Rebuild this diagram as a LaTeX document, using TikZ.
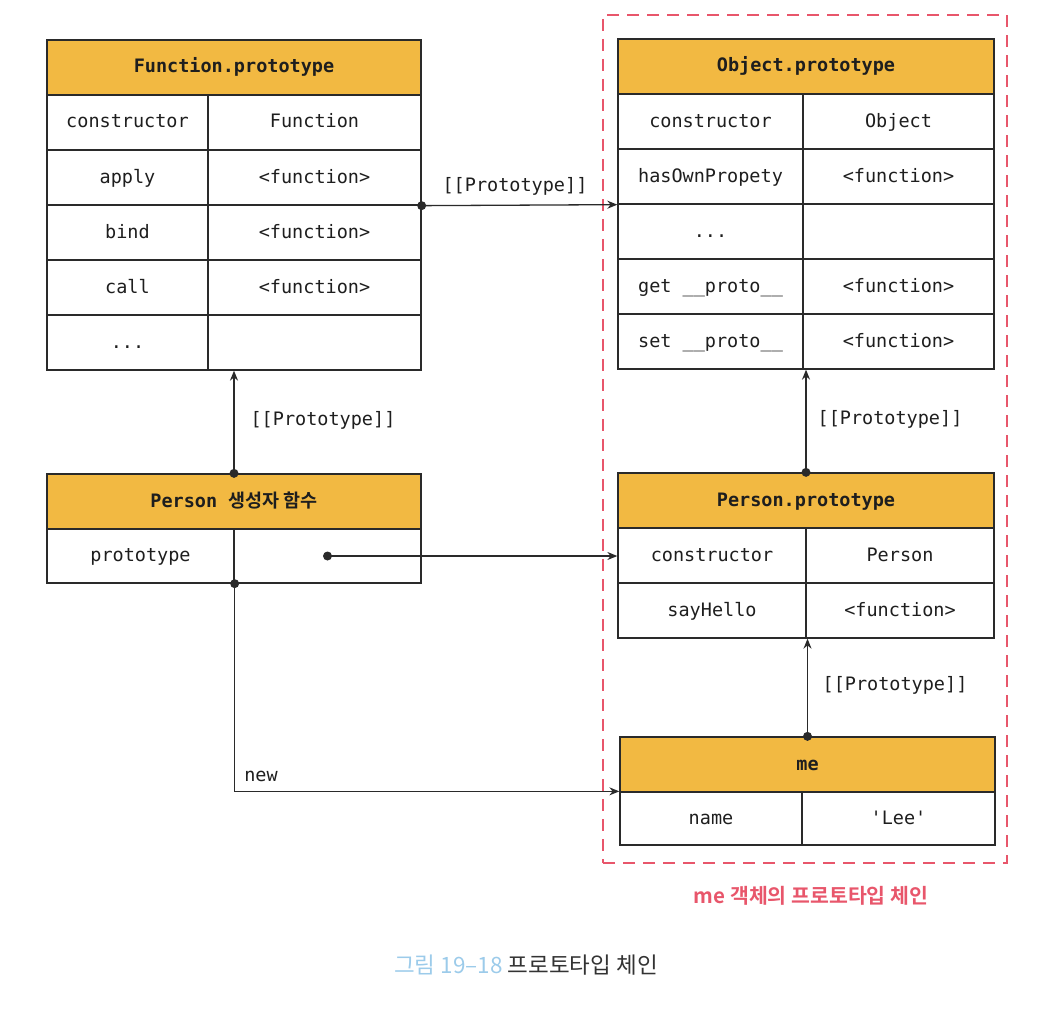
\documentclass[tikz,border=0pt]{standalone}
\usepackage{fontspec}
\setmonofont{DejaVu Sans Mono}
\newfontfamily\kr{Noto Sans CJK KR}[BoldFont={Noto Sans CJK KR Bold}]
\usetikzlibrary{arrows.meta}
\definecolor{hdr}{HTML}{F2B942}
\definecolor{linec}{HTML}{2A2A2A}
\definecolor{txt}{HTML}{1E1E1E}
\definecolor{chain}{HTML}{E8566B}
\definecolor{capblue}{HTML}{9CCBEA}
\definecolor{capdark}{HTML}{333333}
\tikzset{
  cell/.style={draw=linec, line width=1.3pt, inner sep=0pt, minimum height=55pt, text=txt,
    text height=14pt, text depth=3pt,
    font=\ttfamily\fontsize{18.5}{20}\selectfont},
  head/.style={cell, fill=hdr, font=\ttfamily\bfseries\fontsize{18.5}{20}\selectfont},
  arr/.style={draw=linec, line width=1.3pt, -{Stealth[length=10pt,width=8pt]}},
  dot/.style={circle, fill=linec, inner sep=0pt, minimum size=9pt},
  lbl/.style={text=txt, font=\ttfamily\fontsize{18.5}{20}\selectfont, inner sep=0pt},
}
\begin{document}
\begin{tikzpicture}[x=1pt,y=-1pt]
\useasboundingbox (0,0) rectangle (1040,1014);
% chain box
\node[draw=chain, line width=1.6pt, dash pattern=on 12pt off 8pt, minimum width=404pt, minimum height=848pt, inner sep=0pt] (chainbox) at (805,439) {};
% Function.prototype
\node[head, minimum width=374pt] (fp-h) at (234,67.5) {Function.prototype};
\node[cell, minimum width=161pt] (fp-1a) at (127.5,122.5) {constructor};
\node[cell, minimum width=213pt] (fp-1b) at (314.5,122.5) {Function};
\node[cell, minimum width=161pt] (fp-2a) at (127.5,177.5) {apply};
\node[cell, minimum width=213pt] (fp-2b) at (314.5,177.5) {<function>};
\node[cell, minimum width=161pt] (fp-3a) at (127.5,232.5) {bind};
\node[cell, minimum width=213pt] (fp-3b) at (314.5,232.5) {<function>};
\node[cell, minimum width=161pt] (fp-4a) at (127.5,287.5) {call};
\node[cell, minimum width=213pt] (fp-4b) at (314.5,287.5) {<function>};
\node[cell, minimum width=161pt] (fp-5a) at (127.5,342.5) {...};
\node[cell, minimum width=213pt] (fp-5b) at (314.5,342.5) {};
% Object.prototype
\node[head, minimum width=376pt] (op-h) at (806,66.5) {Object.prototype};
\node[cell, minimum width=185pt] (op-1a) at (710.5,121.5) {constructor};
\node[cell, minimum width=191pt] (op-1b) at (898.5,121.5) {Object};
\node[cell, minimum width=185pt] (op-2a) at (710.5,176.5) {hasOwnPropety};
\node[cell, minimum width=191pt] (op-2b) at (898.5,176.5) {<function>};
\node[cell, minimum width=185pt] (op-3a) at (710.5,231.5) {...};
\node[cell, minimum width=191pt] (op-3b) at (898.5,231.5) {};
\node[cell, minimum width=185pt] (op-4a) at (710.5,286.5) {get \_\_proto\_\_};
\node[cell, minimum width=191pt] (op-4b) at (898.5,286.5) {<function>};
\node[cell, minimum width=185pt] (op-5a) at (710.5,341.5) {set \_\_proto\_\_};
\node[cell, minimum width=191pt] (op-5b) at (898.5,341.5) {<function>};
% Person constructor
\node[head, minimum width=374pt] (ps-h) at (234,501.5) {Person {\kr\bfseries 생성자 함수}};
\node[cell, minimum width=187pt, minimum height=54pt] (ps-1a) at (140.5,556) {prototype};
\node[cell, minimum width=187pt, minimum height=54pt] (ps-1b) at (327.5,556) {};
% Person.prototype
\node[head, minimum width=376pt] (pp-h) at (806,500.5) {Person.prototype};
\node[cell, minimum width=188pt] (pp-1a) at (712,555.5) {constructor};
\node[cell, minimum width=188pt] (pp-1b) at (900,555.5) {Person};
\node[cell, minimum width=188pt] (pp-2a) at (712,610.5) {sayHello};
\node[cell, minimum width=188pt] (pp-2b) at (900,610.5) {<function>};
% me
\node[head, minimum width=375pt] (me-h) at (807.5,764.5) {me};
\node[cell, minimum width=182pt, minimum height=53pt] (me-1a) at (711,818.5) {name};
\node[cell, minimum width=193pt, minimum height=53pt] (me-1b) at (898.5,818.5) {'Lee'};
% connectors
\draw[arr] (fp-2b.south east) -- (op-2a.south west);
\node[dot] (d1) at (fp-2b.south east) {};
\node[lbl] (l1) at (515,186) {[[Prototype]]};

\draw[arr] (ps-h.north) -- (ps-h.north |- fp-5a.south);
\node[dot] (d2) at (ps-h.north) {};
\node[lbl] (l2) at (323,420) {[[Prototype]]};

\draw[arr] (pp-h.north) -- (pp-h.north |- op-5a.south);
\node[dot] (d3) at (pp-h.north) {};
\node[lbl] (l3) at (890,419) {[[Prototype]]};

\draw[arr] (me-h.north) -- (me-h.north |- pp-2a.south);
\node[dot] (d4) at (me-h.north) {};
\node[lbl] (l4) at (895,685) {[[Prototype]]};

\node[dot] (d5) at (ps-1b.center) {};
\draw[arr] (d5.center) -- (d5.center -| pp-1a.west);

\draw[arr] (ps-1a.south east) |- (me-1a.north west);
\node[dot] (d6) at (ps-1a.south east) {};
\node[lbl] (l5) at (261,776) {new};
% captions
\node[text=chain, font=\kr\bfseries\fontsize{20.5}{24}\selectfont, inner sep=0pt] (cap1) at (811,896) {me 객체의 프로토타입 체인};
\node[font=\kr\fontsize{22.5}{26}\selectfont, inner sep=0pt] (cap2) at (526,965) {{\color{capblue}그림 19–18} {\color{capdark}프로토타입 체인}};
\end{tikzpicture}
\end{document}
